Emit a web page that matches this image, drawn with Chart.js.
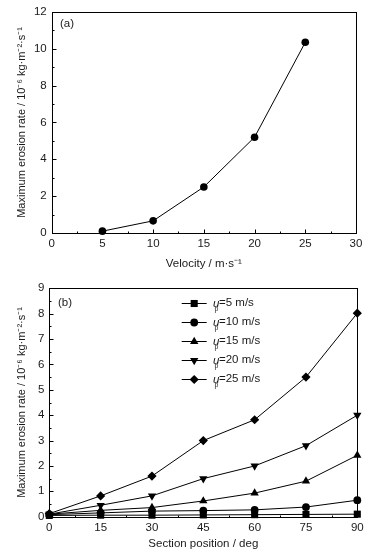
<!DOCTYPE html>
<html><head><meta charset="utf-8">
<script src="https://cdn.jsdelivr.net/npm/chart.js@4/dist/chart.umd.min.js"></script>
<style>html,body{margin:0;padding:0;background:#fff;}canvas{display:block;position:absolute;left:0;}</style>
</head><body>
<canvas id="c1" width="373" height="276" style="top:0;width:373px;height:276px"></canvas>
<canvas id="c2" width="373" height="276" style="top:276px;width:373px;height:276px"></canvas>
<script>
// Panel (a)
const velocities = [5, 10, 15, 20, 25];
const maxRateVsVelocity = [0.1, 0.66, 2.5, 5.2, 10.35];
// Panel (b)
const sectionPositions = [0, 15, 30, 45, 60, 75, 90];
const rateUp5  = [0.05, 0.06, 0.06, 0.07, 0.08, 0.09, 0.1];
const rateUp10 = [0.08, 0.15, 0.22, 0.24, 0.27, 0.38, 0.65];
const rateUp15 = [0.1, 0.25, 0.36, 0.62, 0.93, 1.4, 2.42];
const rateUp20 = [0.1, 0.45, 0.82, 1.5, 2.0, 2.8, 4.0];
const rateUp25 = [0.12, 0.82, 1.6, 3.0, 3.82, 5.5, 8.02];
const seriesSpeeds = ['5 m/s', '10 m/s', '15 m/s', '20 m/s', '25 m/s'];
const xTitleA = 'Velocity / m\u00B7s\u207B\u00B9';
const xTitleB = 'Section position / deg';
const yTitle = 'Maximum erosion rate / 10\u207B\u2076 kg\u00B7m\u207B\u00B2\u00B7s\u207B\u00B9';

const FONT = "'Liberation Sans', Arial, sans-serif";
const FS = 11.5;
const TXT = '#1a1a1a';
Chart.defaults.font.family = FONT;
Chart.defaults.font.size = FS;
Chart.defaults.color = TXT;

const frameTicks = {
  id: 'frameTicks',
  beforeDatasetsDraw(chart) {
    const {ctx, chartArea: a} = chart;
    ctx.save();
    ctx.strokeStyle = '#000';
    ctx.lineWidth = 1;
    const L = Math.round(a.left) + 0.5, R = Math.round(a.right) + 0.5;
    const T = Math.round(a.top) + 0.5, B = Math.round(a.bottom) + 0.5;
    ctx.strokeRect(L, T, R - L, B - T);
    ctx.beginPath();
    const xs = chart.scales.x, ys = chart.scales.y;
    const xv = xs.ticks.map(t => t.value), yv = ys.ticks.map(t => t.value);
    const xstep = xv[1] - xv[0], ystep = yv[1] - yv[0];
    xv.forEach(v => {
      const p = Math.round(xs.getPixelForValue(v)) + 0.5;
      ctx.moveTo(p, B); ctx.lineTo(p, B - 4);
      if (v + xstep / 2 < xs.max) {
        const q = Math.round(xs.getPixelForValue(v + xstep / 2)) + 0.5;
        ctx.moveTo(q, B); ctx.lineTo(q, B - 2);
      }
    });
    yv.forEach(v => {
      const p = Math.round(ys.getPixelForValue(v)) + 0.5;
      ctx.moveTo(L, p); ctx.lineTo(L + 4, p);
      if (v + ystep / 2 < ys.max) {
        const q = Math.round(ys.getPixelForValue(v + ystep / 2)) + 0.5;
        ctx.moveTo(L, q); ctx.lineTo(L + 2, q);
      }
    });
    ctx.stroke();
    ctx.restore();
  },
  afterDraw(chart, args, opts) {
    const ctx = chart.ctx;
    ctx.save();
    ctx.fillStyle = TXT;
    ctx.font = FS + 'px ' + FONT;
    ctx.textBaseline = 'middle';
    ctx.fillText(opts.panel, opts.px, opts.py);
    if (opts.legend) {
      chart.data.datasets.forEach((ds, i) => {
        const y = opts.legend.y0 + i * opts.legend.dy;
        ctx.strokeStyle = '#000'; ctx.lineWidth = 1;
        ctx.beginPath(); ctx.moveTo(opts.legend.x1, Math.round(y) + 0.5); ctx.lineTo(opts.legend.x2, Math.round(y) + 0.5); ctx.stroke();
        ctx.fillStyle = '#000';
        Chart.helpers.drawPoint(ctx, {pointStyle: ds.pointStyle, radius: ds.pointRadius, rotation: ds.pointRotation || 0, borderWidth: 0}, (opts.legend.x1 + opts.legend.x2) / 2, Math.round(y) + 0.5);
        ctx.fillStyle = TXT;
        const tx = opts.legend.tx;
        ctx.font = 'italic ' + FS + 'px ' + FONT;
        ctx.fillText('u', tx, y);
        ctx.font = '7px ' + FONT;
        ctx.fillText('p', tx + 1.5, y + 6);
        ctx.font = FS + 'px ' + FONT;
        ctx.fillText('=' + seriesSpeeds[i], tx + 6, y);
      });
    }
    ctx.restore();
  }
};

function axes(xmin, xmax, xstep, ymax, ystep, yw, xh, ytp, xtb, xt) {
  return {
    x: {
      type: 'linear', min: xmin, max: xmax,
      ticks: {stepSize: xstep, padding: 4, color: TXT, font: {size: FS}},
      grid: {display: false, drawTicks: false}, border: {display: false},
      title: {display: true, text: xt, color: TXT, font: {size: FS}, padding: {top: 0, bottom: xtb}},
      afterFit(s) { s.height = xh; }
    },
    y: {
      type: 'linear', min: 0, max: ymax,
      ticks: {stepSize: ystep, padding: 5, color: TXT, font: {size: FS}},
      grid: {display: false, drawTicks: false}, border: {display: false},
      title: {display: true, text: yTitle, color: TXT, font: {size: 11}, padding: {top: ytp, bottom: 0}},
      afterFit(s) { s.width = yw; }
    }
  };
}

new Chart(document.getElementById('c1'), {
  type: 'line',
  data: {
    datasets: [{
      data: velocities.map((v, i) => ({x: v, y: maxRateVsVelocity[i]})),
      borderColor: '#000', borderWidth: 1, backgroundColor: '#000',
      pointStyle: 'circle', pointRadius: 3.8, pointBorderWidth: 0, pointBackgroundColor: '#000',
      tension: 0, clip: false
    }]
  },
  options: {
    responsive: false, animation: false,
    layout: {padding: {top: 7.7, right: 17, left: 0, bottom: 0}},
    plugins: {legend: {display: false}, tooltip: {enabled: false},
      frameTicks: {panel: '(a)', px: 60, py: 24}},
    scales: axes(0, 30, 5, 12, 2, 51.7, 43, 15, 5.5, xTitleA)
  },
  plugins: [frameTicks]
});

const seriesB = [rateUp5, rateUp10, rateUp15, rateUp20, rateUp25];
const stylesB = [
  {pointStyle: 'rect', pointRadius: 5, pointRotation: 0},
  {pointStyle: 'circle', pointRadius: 3.9, pointRotation: 0},
  {pointStyle: 'triangle', pointRadius: 4.8, pointRotation: 0},
  {pointStyle: 'triangle', pointRadius: 4.8, pointRotation: 180},
  {pointStyle: 'rectRot', pointRadius: 4.6, pointRotation: 0}
];
new Chart(document.getElementById('c2'), {
  type: 'line',
  data: {
    datasets: seriesB.map((s, k) => Object.assign({
      label: seriesSpeeds[k],
      data: sectionPositions.map((v, i) => ({x: v, y: s[i]})),
      borderColor: '#000', borderWidth: 1, backgroundColor: '#000',
      pointBorderWidth: 0, pointBackgroundColor: '#000',
      tension: 0, clip: false
    }, stylesB[k]))
  },
  options: {
    responsive: false, animation: false,
    layout: {padding: {top: 12.3, right: 15.7, left: 0, bottom: 0}},
    plugins: {legend: {display: false}, tooltip: {enabled: false},
      frameTicks: {panel: '(b)', px: 58, py: 27.3,
        legend: {x1: 181.7, x2: 206.7, tx: 213, y0: 27.3, dy: 19}}},
    scales: axes(0, 90, 15, 9, 1, 49.3, 35.3, 15.4, 1.5, xTitleB)
  },
  plugins: [frameTicks]
});
</script>
</body></html>
